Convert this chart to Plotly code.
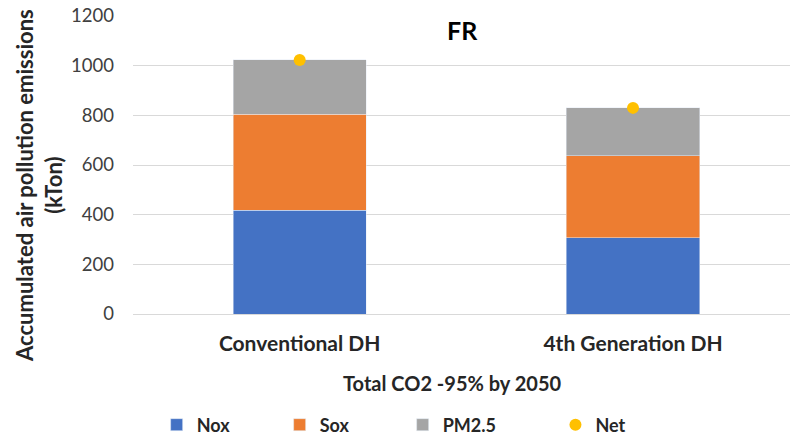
import plotly.graph_objects as go

# Values (kTon)
categories = ["Conventional DH", "4th Generation DH"]
nox = [418, 308]
sox = [386, 329]
pm25 = [219, 193]
net = [1023, 830]

FONT = "Lato"

fig = go.Figure()
fig.add_trace(go.Bar(x=categories, y=nox, name="Nox", marker_color="#4472C4", legend="legend"))
fig.add_trace(go.Bar(x=categories, y=sox, name="Sox", marker_color="#ED7D31", legend="legend"))
fig.add_trace(go.Bar(x=categories, y=pm25, name="PM2.5", marker_color="#A5A5A5", legend="legend"))
fig.add_trace(go.Scatter(x=categories, y=net, name="Net", mode="markers",
                         marker=dict(color="#FFC000", size=12), legend="legend2"))

leg_font = dict(size=18, color="#262626", weight="bold")

fig.update_layout(
    width=790, height=439,
    barmode="stack", bargap=0.6,
    plot_bgcolor="white", paper_bgcolor="white",
    margin=dict(l=133, r=0, t=16, b=125, autoexpand=False),
    font=dict(family=FONT, color="#262626"),
    xaxis=dict(range=[-0.5, 1.471], showgrid=False, showline=False,
               tickfont=dict(size=21, color="#262626", weight="bold"),
               ticklabelstandoff=15),
    yaxis=dict(range=[0, 1200], dtick=200, gridcolor="#D9D9D9", gridwidth=1,
               zeroline=True, zerolinecolor="#D9D9D9", zerolinewidth=1,
               tickfont=dict(size=18.5, color="#404040"), ticklabelstandoff=18),
    legend=dict(orientation="h", x=0.036, xanchor="left", y=0.032, yanchor="middle",
                yref="container", entrywidth=78, entrywidthmode="pixels", itemwidth=30,
                bgcolor="rgba(0,0,0,0)", font=leg_font, traceorder="normal"),
    legend2=dict(orientation="h", x=0.643, xanchor="left", y=0.032, yanchor="middle",
                 yref="container", itemwidth=30, bgcolor="rgba(0,0,0,0)", font=leg_font),
    showlegend=True,
    annotations=[
        dict(text="<b>FR</b>", x=0.502, y=0.953, xref="paper", yref="paper",
             xanchor="center", yanchor="middle",
             showarrow=False, font=dict(size=25, color="#000000")),
        dict(text="<b>Total CO2 -95% by 2050</b>", x=0.487, y=-0.232, xref="paper", yref="paper",
             xanchor="center", yanchor="middle",
             showarrow=False, font=dict(size=20, color="#262626")),
        dict(text="<b>Accumulated air pollution emissions<br>(kTon)</b>", x=-0.143, y=0.43,
             xref="paper", yref="paper", xanchor="center", yanchor="middle",
             textangle=-90, showarrow=False,
             font=dict(size=22, color="#262626")),
    ],
)

# drop the default body margin so the figure sits at the window's top-left
fig.write_html("out.html", config={"displayModeBar": False},
               post_script="document.body.style.margin='0';")
